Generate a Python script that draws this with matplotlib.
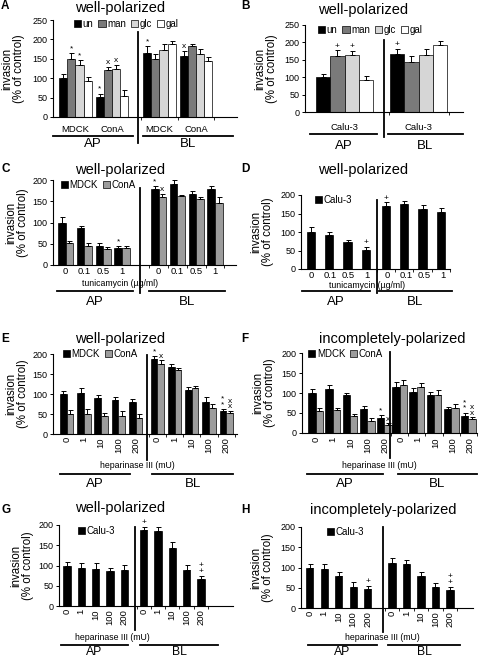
import numpy as np
import matplotlib.pyplot as plt
from matplotlib.patches import Patch
from matplotlib.lines import Line2D

plt.rcParams['font.family'] = ['Liberation Sans', 'DejaVu Sans']

W, H = 480, 659

#-----------------------------------------------------------------------------
# Datos
#-----------------------------------------------------------------------------
sugars = ['un', 'man', 'glc', 'gal']
cells2 = ['MDCK', 'ConA']
calu = ['Calu-3']
tunica = ['0', '0.1', '0.5', '1']
hepar = ['0', '1', '10', '100', '200']

# A: filas = MDCK, ConA ; columnas = un, man, glc, gal
a_ap = [[100, 149, 135, 94], [52, 122, 125, 55]]
a_ap_err = [[12, 15, 12, 8], [8, 8, 10, 15]]
a_ap_mark = [['', '*', '*', ''], ['*', 'x', 'x', '']]
a_bl = [[165, 150, 173, 187], [158, 182, 162, 145]]
a_bl_err = [[17, 12, 15, 10], [12, 6, 12, 10]]
a_bl_mark = [['*', '', '', ''], ['x', '', '', '']]

# B: Calu-3
b_ap = [[100, 160, 163, 92]]
b_ap_err = [[9, 17, 13, 12]]
b_ap_mark = [['', '+', '+', '']]
b_bl = [[167, 145, 165, 193]]
b_bl_err = [[13, 15, 17, 10]]
b_bl_mark = [['+', '', '', '']]

# C: tunicamicina, MDCK y ConA
c_mdck_ap = [100, 88, 45, 40]
c_mdck_ap_err = [12, 3, 6, 5]
c_cona_ap = [51, 45, 38, 39]
c_cona_ap_err = [5, 7, 5, 6]
c_mdck_bl = [178, 190, 167, 180]
c_mdck_bl_err = [8, 9, 7, 5]
c_cona_bl = [161, 162, 156, 147]
c_cona_bl_err = [6, 3, 4, 12]
c_ap_mark = [['', '', '', '*'], ['', '', '', '']]
c_bl_mark = [['*', '', '', ''], ['x', '', '', '']]

# D: tunicamicina, Calu-3
d_ap = [100, 93, 73, 52]
d_ap_err = [14, 8, 5, 8]
d_bl = [170, 176, 161, 155]
d_bl_err = [10, 9, 13, 10]
d_ap_mark = [['', '', '', '+']]
d_bl_mark = [['+', '', '', '']]

# E: heparinasa, MDCK y ConA (bien polarizadas)
e_mdck_ap = [100, 103, 91, 85, 81]
e_mdck_ap_err = [8, 13, 7, 8, 7]
e_cona_ap = [49, 51, 46, 45, 41]
e_cona_ap_err = [12, 11, 7, 12, 8]
e_mdck_bl = [187, 167, 110, 80, 57]
e_mdck_bl_err = [8, 8, 7, 12, 5]
e_cona_bl = [176, 160, 114, 66, 52]
e_cona_bl_err = [8, 6, 6, 8, 5]
e_ap_mark = [['', '', '', '', ''], ['', '', '', '', '']]
e_bl_mark = [['*', '', '', '', '*\n*'], ['x', '', '', '', 'x\nx']]

# F: heparinasa, MDCK y ConA (incompletamente polarizadas)
f_mdck_ap = [100, 109, 94, 59, 37]
f_mdck_ap_err = [10, 12, 6, 8, 8]
f_cona_ap = [54, 58, 43, 31, 20]
f_cona_ap_err = [9, 4, 4, 6, 4]
f_mdck_bl = [115, 103, 94, 59, 42]
f_mdck_bl_err = [12, 10, 8, 5, 9]
f_cona_bl = [119, 116, 96, 63, 34]
f_cona_bl_err = [13, 10, 12, 10, 5]
f_ap_mark = [['', '', '', '', '*'], ['', '', '', '', 'x']]
f_bl_mark = [['', '', '', '', '*\n*'], ['', '', '', '', 'x\nx']]

# G: heparinasa, Calu-3 (bien polarizadas)
g_ap = [100, 94, 92, 87, 88]
g_ap_err = [9, 11, 14, 8, 14]
g_bl = [188, 186, 143, 89, 66]
g_bl_err = [8, 10, 15, 13, 9]
g_ap_mark = [['', '', '', '', '']]
g_bl_mark = [['+', '', '', '', '+\n+']]

# H: heparinasa, Calu-3 (incompletamente polarizadas)
h_ap = [100, 96, 80, 53, 46]
h_ap_err = [8, 13, 10, 10, 9]
h_bl = [110, 109, 79, 51, 44]
h_bl_err = [14, 10, 9, 10, 8]
h_ap_mark = [['', '', '', '', '+']]
h_bl_mark = [['', '', '', '', '+\n+']]

# colores
sugar_colors = ['black', '#7a7a7a', '#d6d6d6', 'white']
pair_colors = ['black', '#9c9c9c']
one_color = ['black']

#-----------------------------------------------------------------------------
fig = plt.figure(figsize=(W / 100, H / 100), dpi=100)


def fx(x):
    return x / W


def fy(y):
    return 1 - y / H


def hline(x1, x2, y, lw=1.3):
    fig.add_artist(Line2D([fx(x1), fx(x2)], [fy(y), fy(y)], color='black', lw=lw))


def vline(x, y1, y2, lw=1.3):
    fig.add_artist(Line2D([fx(x), fx(x)], [fy(y1), fy(y2)], color='black', lw=lw))


def panel(letter, letter_xy, title, title_xy, box, ymax, ap, ap_err, ap_mark,
          bl, bl_err, bl_mark, cats, x_ap, x_bl, step, bw, colors, names,
          legend_xy, ylab_x, div, tick_y, rot, xlabel, under, side_y, side_fs=9.5):
    l, t, r, b = box
    ax = fig.add_axes([fx(l), fy(b), (r - l) / W, (b - t) / H])
    ax.set_xlim(l, r)
    ax.set_ylim(0, ymax)
    ns = len(colors)
    for x0, vals, errs, marks in ((x_ap, ap, ap_err, ap_mark), (x_bl, bl, bl_err, bl_mark)):
        vals = np.asarray(vals, float)
        errs = np.asarray(errs, float)
        for j in range(ns):
            xs = x0 + np.arange(vals.shape[1]) * step + j * bw + bw / 2
            ax.bar(xs, vals[j], bw, color=colors[j], edgecolor='black', lw=0.5, zorder=2)
            ax.errorbar(xs, vals[j], yerr=[np.zeros(len(xs)), errs[j]], fmt='none',
                        ecolor='black', elinewidth=0.7, capsize=1.8, capthick=0.7, zorder=3)
            for xx, v, e, m in zip(xs, vals[j], errs[j], marks[j]):
                if m:
                    ax.text(xx, v + e + ymax * 0.01, m, ha='center', va='bottom',
                            fontsize=6, linespacing=0.75)
        # etiquetas de categoría
        centers = x0 + np.arange(vals.shape[1]) * step + ns * bw / 2
        for cx, lab in zip(centers, cats):
            fig.text(fx(cx), fy(tick_y), lab, ha='center',
                     va='top' if rot else 'center', rotation=rot, fontsize=6.8)
        gap = step - ns * bw
        ax.set_xticks(x0 - gap / 2 + np.arange(vals.shape[1] + 1) * step, minor=True)
    ax.set_xticks([])
    ax.set_yticks(np.arange(0, ymax + 1, 50))
    ax.tick_params(axis='y', labelsize=6.5, length=2.5, width=0.7, pad=1.5)
    ax.tick_params(axis='x', which='minor', length=2, width=0.6)
    for s in ('top', 'right'):
        ax.spines[s].set_visible(False)
    for s in ('left', 'bottom'):
        ax.spines[s].set_linewidth(0.8)

    fig.text(fx(ylab_x), fy((t + b) / 2), 'invasion\n(% of control)', rotation=90,
             ha='center', va='center', fontsize=8.3, multialignment='center',
             linespacing=1.0)
    fig.text(fx(title_xy[0]), fy(title_xy[1]), title, ha='center', va='center', fontsize=10.5)
    fig.text(fx(letter_xy[0]), fy(letter_xy[1]), letter, ha='left', va='top',
             fontsize=8.5, fontweight='bold')
    handles = [Patch(facecolor=c, edgecolor='black', lw=0.5) for c in colors]
    fig.legend(handles, names, loc='center left', bbox_to_anchor=(fx(legend_xy[0]), fy(legend_xy[1])),
               frameon=False, ncol=len(names), fontsize=7, handlelength=0.75,
               handleheight=0.75, handletextpad=0.15, columnspacing=0.5,
               borderpad=0, borderaxespad=0)
    vline(div[0], div[1], div[2])
    if xlabel:
        fig.text(fx(xlabel[0]), fy(xlabel[1]), xlabel[2], ha='center', va='center', fontsize=6.3)
    hline(under[1], under[2], under[0])
    hline(under[3], under[4], under[0])
    fig.text(fx((under[1] + under[2]) / 2), fy(side_y), 'AP', ha='center', va='center', fontsize=side_fs)
    fig.text(fx((under[3] + under[4]) / 2), fy(side_y), 'BL', ha='center', va='center', fontsize=side_fs)
    return ax


# A
panel('A', (1, 0), 'well-polarized', (120, 8), (53, 20, 237, 117), 250,
      np.array(a_ap).T, np.array(a_ap_err).T, np.array(a_ap_mark).T,
      np.array(a_bl).T, np.array(a_bl_err).T, np.array(a_bl_mark).T,
      cells2, 59, 143, 36.5, 8.2, sugar_colors, sugars, (74, 24), 13,
      (138, 32, 143), 130, 0, None, (136, 53, 133, 143, 233), 144)

# B
panel('B', (241, 0), 'well-polarized', (363, 10), (305, 25, 463, 112), 250,
      np.array(b_ap).T, np.array(b_ap_err).T, np.array(b_ap_mark).T,
      np.array(b_bl).T, np.array(b_bl_err).T, np.array(b_bl_mark).T,
      calu, 316, 390, 60, 14.3, sugar_colors, sugars, (318, 30), 266,
      (384, 40, 137), 127, 0, None, (134, 310, 377, 388, 463), 146)

# C
panel('C', (1, 163), 'well-polarized', (120, 170), (53, 180, 236, 265), 200,
      [c_mdck_ap, c_cona_ap], [c_mdck_ap_err, c_cona_ap_err], c_ap_mark,
      [c_mdck_bl, c_cona_bl], [c_mdck_bl_err, c_cona_bl_err], c_bl_mark,
      tunica, 58, 151, 18.8, 7.6, pair_colors, cells2, (61, 185), 17,
      (140, 188, 293), 272, 0, (120, 284, 'tunicamycin (µg/ml)'),
      (291, 57, 133, 149, 225), 302)

# D
panel('D', (241, 163), 'well-polarized', (363, 170), (301, 195, 450, 269), 200,
      [d_ap], [d_ap_err], d_ap_mark, [d_bl], [d_bl_err], d_bl_mark,
      tunica, 307, 383.3, 18.6, 8.3, one_color, calu, (315, 200), 262,
      (377, 200, 293), 275.5, 0, (367, 285.5, 'tunicamycin (µg/ml)'),
      (291, 302, 370, 379, 452), 302)

# E
panel('E', (1, 333), 'well-polarized', (120, 339), (53, 354, 237, 434), 200,
      [e_mdck_ap, e_cona_ap], [e_mdck_ap_err, e_cona_ap_err], e_ap_mark,
      [e_mdck_bl, e_cona_bl], [e_mdck_bl_err, e_cona_bl_err], e_bl_mark,
      hepar, 60, 150.7, 17.2, 6.7, pair_colors, cells2, (63, 354), 17,
      (147, 355, 460), 437, 90, (137, 466, 'heparinase III (mU)'),
      (474, 60, 130, 152, 233), 484)

# F
panel('F', (241, 333), 'incompletely-polarized', (392, 339), (302, 353, 477, 433), 200,
      [f_mdck_ap, f_cona_ap], [f_mdck_ap_err, f_cona_ap_err], f_ap_mark,
      [f_mdck_bl, f_cona_bl], [f_mdck_bl_err, f_cona_bl_err], f_bl_mark,
      hepar, 308.3, 393.3, 17.4, 7.5, pair_colors, cells2, (308, 354), 264,
      (390, 352, 458), 437, 90, (379, 466, 'heparinase III (mU)'),
      (474, 307, 383, 398, 477), 484)

# G
panel('G', (1, 504), 'well-polarized', (120, 508), (59, 525, 233, 606), 200,
      [g_ap], [g_ap_err], g_ap_mark, [g_bl], [g_bl_err], g_bl_mark,
      hepar, 63.3, 140, 14.3, 7.3, one_color, calu, (78, 531), 22,
      (135, 527, 630), 609, 90, (112, 638, 'heparinase III (mU)'),
      (645, 61, 128, 140, 218), 652, 8.8)

# H
panel('H', (241, 504), 'incompletely-polarized', (383, 510), (301, 527, 473, 608), 200,
      [h_ap], [h_ap_err], h_ap_mark, [h_bl], [h_bl_err], h_bl_mark,
      hepar, 306, 388.3, 14.5, 7.3, one_color, calu, (327, 532), 262,
      (383, 527, 632), 611, 90, (382, 637, 'heparinase III (mU)'),
      (645, 308, 377, 388, 460), 652, 8.8)

plt.savefig('out.png', dpi=100)
